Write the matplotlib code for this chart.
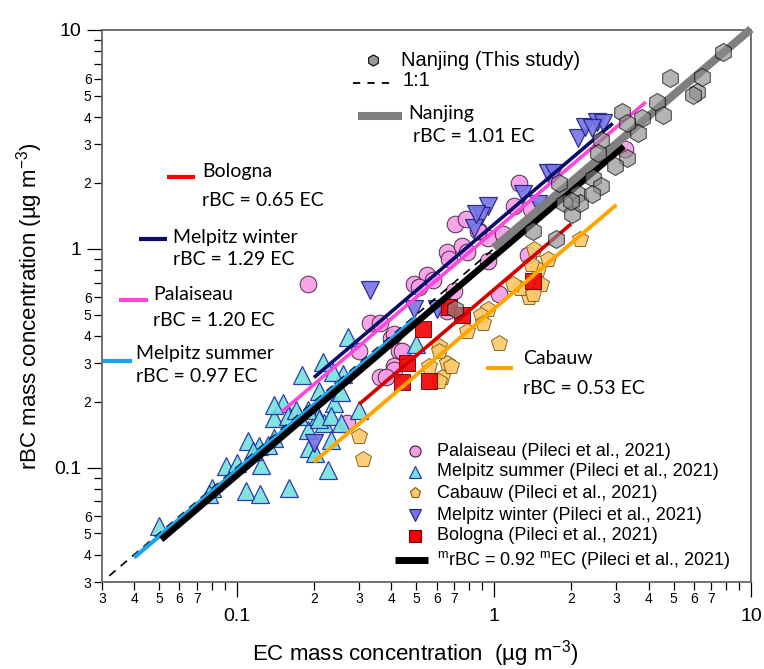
import numpy as np
import matplotlib
matplotlib.use('Agg')
import matplotlib.pyplot as plt
from matplotlib.lines import Line2D
from matplotlib.ticker import FixedLocator, FuncFormatter

W, H = 764, 669

# --- data (EC, rBC in ug m-3) ---
palaiseau_ec = [0.19, 0.71, 0.78, 0.66, 0.67, 0.75, 0.79, 0.88, 0.95, 0.55, 0.49, 0.51, 0.58, 0.33, 0.36,
                0.40, 0.43, 0.36, 0.41, 0.70, 0.30, 1.05, 0.95, 1.25, 1.20, 1.39, 0.87, 1.09, 1.36, 3.25,
                0.66, 0.41, 0.44, 0.41, 0.38, 0.27]
palaiseau_rbc = [0.69, 1.30, 1.37, 0.97, 0.90, 1.03, 0.97, 1.20, 1.12, 0.76, 0.69, 0.67, 0.72, 0.46, 0.46,
                 0.39, 0.34, 0.26, 0.29, 0.64, 0.34, 0.62, 0.88, 2.00, 1.57, 1.52, 1.20, 1.17, 0.94, 2.87,
                 0.52, 0.41, 0.34, 0.28, 0.26, 0.16]

msummer_ec = [0.050, 0.080, 0.078, 0.091, 0.100, 0.111, 0.122, 0.109, 0.123, 0.125, 0.116, 0.133, 0.140, 0.140,
              0.152, 0.140, 0.160, 0.179, 0.217, 0.190, 0.192, 0.208, 0.219, 0.227, 0.210, 0.201, 0.175, 0.159,
              0.272, 0.171, 0.190, 0.240, 0.255, 0.260, 0.238, 0.210, 0.234, 0.255, 0.300, 0.234, 0.499]
msummer_rbc = [0.054, 0.081, 0.076, 0.102, 0.105, 0.132, 0.126, 0.078, 0.076, 0.103, 0.119, 0.127, 0.137, 0.169,
               0.198, 0.194, 0.081, 0.264, 0.303, 0.149, 0.123, 0.173, 0.160, 0.097, 0.225, 0.117, 0.173, 0.173,
               0.395, 0.184, 0.184, 0.198, 0.221, 0.267, 0.273, 0.166, 0.173, 0.160, 0.184, 0.134, 0.367]

cabauw_ec = [0.95, 0.89, 0.91, 0.79, 1.05, 0.61, 0.61, 0.66, 0.56, 0.63, 0.68, 1.37, 1.27, 1.19, 1.52, 1.48,
             0.61, 2.17, 1.63, 1.43, 1.39, 1.42, 0.30, 0.31]
cabauw_rbc = [0.53, 0.50, 0.46, 0.42, 0.37, 0.36, 0.34, 0.30, 0.29, 0.26, 0.29, 0.60, 0.66, 0.69, 0.69, 0.81,
              0.25, 1.11, 0.90, 1.00, 0.85, 0.62, 0.14, 0.11]

mwinter_ec = [0.33, 0.49, 0.95, 0.89, 0.84, 0.60, 2.12, 2.27, 2.53, 2.67, 2.42, 1.30, 1.48, 0.85, 1.62, 1.71, 0.20]
mwinter_rbc = [0.65, 0.53, 1.57, 1.41, 1.24, 0.53, 3.20, 3.59, 3.79, 3.75, 3.55, 1.78, 1.60, 1.44, 2.21, 2.21, 0.13]

bologna_ec = [0.53, 0.67, 0.75, 0.46, 0.44, 0.56, 1.42]
bologna_rbc = [0.43, 0.54, 0.50, 0.30, 0.245, 0.25, 0.71]

nanjing_ec = [7.79, 4.85, 6.46, 6.18, 5.96, 4.32, 4.56, 3.16, 3.78, 3.65, 3.31, 2.60, 2.55, 3.31, 2.97, 2.44,
              2.60, 2.12, 1.87, 2.02, 2.17, 2.42, 1.99, 1.79, 1.42, 1.74, 0.71]
nanjing_rbc = [7.96, 6.04, 6.11, 5.21, 5.04, 4.68, 4.08, 4.21, 3.95, 3.40, 3.75, 3.13, 2.75, 2.59, 2.40, 2.11,
               1.94, 1.78, 1.62, 1.44, 1.62, 1.78, 1.65, 2.00, 1.20, 1.11, 0.53]

# fitted lines: slope and EC range
fit_names = ['Melpitz summer', 'Cabauw', 'Bologna', 'Palaiseau', 'Melpitz winter', 'Pileci', 'Nanjing']
fit_slopes = [0.97, 0.53, 0.65, 1.20, 1.29, 0.92, 1.01]
fit_x0 = [0.04, 0.20, 0.30, 0.15, 0.20, 0.051, 1.0]
fit_x1 = [0.50, 3.0, 2.0, 3.9, 2.9, 3.2, 10.0]
fit_colors = ['#1aa3ef', '#ffa500', '#d40000', '#ff45dc', '#0b0b6b', 'black', '#7f7f7f']
fit_widths = [3.0, 2.8, 2.6, 2.6, 2.6, 4.6, 5.8]
one_to_one = [0.032, 1.0]

plt.rcParams['font.family'] = ['Liberation Sans', 'DejaVu Sans']
plt.rcParams['mathtext.fontset'] = 'custom'
plt.rcParams['mathtext.rm'] = 'Liberation Sans'
plt.rcParams['mathtext.it'] = 'Liberation Sans:italic'

fig = plt.figure(figsize=(W / 100, H / 100), dpi=100)
ax = fig.add_axes([102 / W, 1 - 582 / H, 649 / W, 552 / H])
ax.set_xscale('log')
ax.set_yscale('log')
ax.set_xlim(0.03, 10)
ax.set_ylim(0.03, 10)

# scatter
sty = dict(ls='none', alpha=0.9, zorder=2)
ax.plot(palaiseau_ec, palaiseau_rbc, marker='o', ms=12, mfc='#f59de6', mec='#3a1a3a', mew=0.7, **sty)
ax.plot(msummer_ec, msummer_rbc, marker='^', ms=13, mfc='#76e0dc', mec='#1a2aa8', mew=0.9, **sty)
ax.plot(cabauw_ec, cabauw_rbc, marker='p', ms=12, mfc='#fdc96a', mec='#7a5a10', mew=0.7, **sty)
ax.plot(mwinter_ec, mwinter_rbc, marker='v', ms=13, mfc='#7474e6', mec='#202080', mew=0.9, **sty)
ax.plot(bologna_ec, bologna_rbc, marker='s', ms=11, mfc='#f00000', mec='#700000', mew=0.7, **sty)

# lines
xs = np.array(one_to_one)
ax.plot(xs, xs, color='black', lw=1.2, ls=(0, (5, 4)), zorder=3)
for s, a, b, c, lw in zip(fit_slopes, fit_x0, fit_x1, fit_colors, fit_widths):
    xx = np.array([a, b])
    ax.plot(xx, s * xx, color=c, lw=lw, solid_capstyle='butt', zorder=3, clip_on=False)

ax.plot(nanjing_ec, nanjing_rbc, ls='none', marker='h', ms=13, mfc='#8c8c8c', mec='black', mew=0.8,
        alpha=0.65, zorder=4)

# ticks
major = [0.1, 1, 10]
minor = [m * d for d in [0.01, 0.1, 1] for m in range(2, 10)]
minor = [v for v in minor if v >= 0.0299]


def major_fmt(v, pos):
    return {0.1: '0.1', 1: '1', 10: '10'}.get(round(v, 3), '')


def minor_fmt_x(v, pos):
    d = int(round(v / 10 ** np.floor(np.log10(v) + 1e-9)))
    return str(d) if d <= 7 else ''


def minor_fmt_y(v, pos):
    d = int(round(v / 10 ** np.floor(np.log10(v) + 1e-9)))
    return str(d) if d <= 6 else ''


for axis in [ax.xaxis, ax.yaxis]:
    axis.set_major_locator(FixedLocator(major))
    axis.set_minor_locator(FixedLocator(minor))
    axis.set_major_formatter(FuncFormatter(major_fmt))
ax.xaxis.set_minor_formatter(FuncFormatter(minor_fmt_x))
ax.yaxis.set_minor_formatter(FuncFormatter(minor_fmt_y))

ax.tick_params(which='both', direction='out', top=False, right=False, width=0.9, color='black')
ax.tick_params(which='major', length=11, labelsize=14)
ax.tick_params(which='minor', length=5.5, labelsize=10)
ax.tick_params(axis='x', which='major', pad=8)
ax.tick_params(axis='x', which='minor', pad=2)
ax.tick_params(axis='y', which='major', pad=4)
ax.tick_params(axis='y', which='minor', pad=2)

for sp in ax.spines.values():
    sp.set_color('#666666')
    sp.set_linewidth(1.3)

ax.set_xlabel('EC mass concentration  (\u00b5g m$^{-3}$)', fontsize=16)
ax.set_ylabel('rBC mass concentration (\u00b5g m$^{-3}$)', fontsize=16)
ax.xaxis.set_label_coords((415 - 102) / 649, -0.102)
ax.yaxis.set_label_coords(-0.088, 0.5)


def fx(px):
    return px / W


def fy(py):
    return 1 - py / H


def sample(x0, x1, y, **kw):
    fig.add_artist(Line2D([fx(x0), fx(x1)], [fy(y), fy(y)], transform=fig.transFigure,
                          solid_capstyle='butt', **kw))


ann = dict(fontsize=14, family=['Lato', 'DejaVu Sans'], va='center', ha='left')

# upper legend
fig.add_artist(Line2D([fx(373)], [fy(60)], transform=fig.transFigure, marker='h', ms=8,
                      mfc='#9a9a9a', mec='black', mew=0.8, ls='none'))
fig.text(fx(401), fy(60), 'Nanjing (This study)', fontsize=14.5, va='center')
sample(353, 392, 83, color='black', lw=1.3, ls=(0, (4, 4)))
fig.text(fx(403), fy(80), '1:1', fontsize=14.5, va='center')
sample(358, 402, 116, color='#7f7f7f', lw=5.8)
fig.text(fx(408), fy(113), 'Nanjing', **ann)
fig.text(fx(413), fy(137), 'rBC = 1.01 EC', **ann)

# site annotations
sample(167, 195, 177, color='#ff0000', lw=3)
fig.text(fx(202), fy(172), 'Bologna', **ann)
fig.text(fx(202), fy(200), 'rBC = 0.65 EC', **ann)
sample(139, 167, 239, color='#0b0b6b', lw=3)
fig.text(fx(173), fy(238), 'Melpitz winter', **ann)
fig.text(fx(173), fy(260), 'rBC = 1.29 EC', **ann)
sample(119, 148, 300, color='#ff45dc', lw=3)
fig.text(fx(153), fy(295), 'Palaiseau', **ann)
fig.text(fx(153), fy(320), 'rBC = 1.20 EC', **ann)
sample(103, 132, 361, color='#1aa3ef', lw=3)
fig.text(fx(136), fy(354), 'Melpitz summer', **ann)
fig.text(fx(136), fy(376), 'rBC = 0.97 EC', **ann)
sample(486, 513, 368, color='#ffa500', lw=3)
fig.text(fx(523), fy(359), 'Cabauw', **ann)
fig.text(fx(523), fy(388), 'rBC = 0.53 EC', **ann)

# lower-right legend
leg_rows = [451, 472, 493, 515, 536]
leg_labels = ['Palaiseau (Pileci et al., 2021)', 'Melpitz summer (Pileci et al., 2021)',
              'Cabauw (Pileci et al., 2021)', 'Melpitz winter (Pileci et al., 2021)',
              'Bologna (Pileci et al., 2021)']
leg_markers = [('o', '#f59de6', '#3a1a3a'), ('^', '#76e0dc', '#1a2aa8'), ('p', '#fdc96a', '#7a5a10'),
               ('v', '#7474e6', '#202080'), ('s', '#f00000', '#700000')]
for y, lab, (m, fc, ec) in zip(leg_rows, leg_labels, leg_markers):
    fig.add_artist(Line2D([fx(415)], [fy(y)], transform=fig.transFigure, marker=m, ms=8,
                          mfc=fc, mec=ec, mew=0.8, ls='none'))
    fig.text(fx(437), fy(y), lab, fontsize=13, va='center')
sample(395, 428, 560, color='black', lw=5)
fig.text(fx(437), fy(560), '$^{\\mathrm{m}}$rBC = 0.92 $^{\\mathrm{m}}$EC (Pileci et al., 2021)',
         fontsize=13, va='center')

fig.savefig('out.png', dpi=100)
